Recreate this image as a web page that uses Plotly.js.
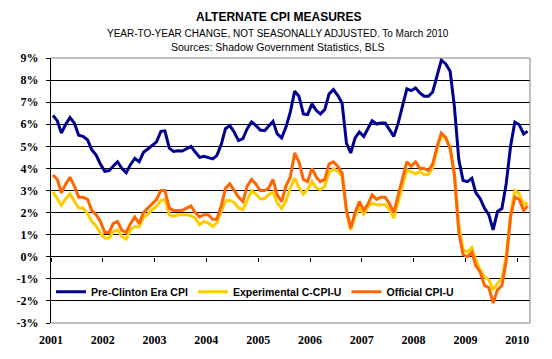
<!DOCTYPE html>
<html>
<head>
<meta charset="utf-8">
<script src="https://cdn.plot.ly/plotly-3.0.1.min.js"></script>
<style>
html,body{margin:0;padding:0;background:#ffffff;}
#chart{width:552px;height:359px;}
</style>
</head>
<body>
<div id="chart"></div>
<script>
// Monthly year-to-year change (%), Jan 2001 .. Mar 2010
const startYear = 2001;

const preClintonCPI = [
  6.4, 6.15, 5.6, 6.0, 6.3, 6.05, 5.5, 5.45, 5.3, 4.85, 4.6, 4.2,
  3.87, 3.9, 4.1, 4.3, 4.0, 3.8, 4.17, 4.45, 4.3, 4.73, 4.88, 5.03,
  5.2, 5.68, 5.7, 4.92, 4.77, 4.8, 4.79, 4.89, 5.0, 4.74, 4.5, 4.55,
  4.5, 4.43, 4.58, 5.08, 5.8, 5.94, 5.65, 5.26, 5.35, 5.8, 6.1, 5.95,
  5.74, 5.71, 5.91, 6.13, 5.56, 5.38, 5.86, 6.55, 7.5, 7.27, 6.47, 6.44,
  6.92, 6.62, 6.47, 6.66, 7.37, 7.57, 7.31, 6.96, 5.15, 4.7, 5.38, 5.65,
  5.45, 5.86, 6.16, 6.01, 6.06, 6.06, 5.76, 5.45, 6.06, 6.89, 7.6, 7.52,
  7.64, 7.42, 7.27, 7.27, 7.46, 8.2, 8.9, 8.73, 8.4, 6.8, 4.4, 3.45,
  3.4, 3.55, 2.9, 2.63, 2.2, 1.9, 1.22, 2.05, 2.18, 3.3, 5.0, 6.1,
  5.98, 5.56, 5.68
];

const experimentalCCPIU = [
  2.93, 2.58, 2.33, 2.63, 2.84, 2.51, 2.21, 2.21, 1.96, 1.6, 1.4, 1.07,
  0.85, 0.85, 1.12, 1.22, 0.92, 0.8, 1.22, 1.37, 1.35, 1.78, 1.93, 2.13,
  2.28, 2.54, 2.61, 1.9, 1.83, 1.9, 1.9, 1.9, 1.86, 1.75, 1.45, 1.6,
  1.53, 1.37, 1.53, 2.05, 2.54, 2.55, 2.46, 2.21, 2.13, 2.54, 2.99, 2.84,
  2.63, 2.63, 2.81, 2.93, 2.43, 2.18, 2.51, 3.11, 3.56, 3.14, 2.84, 3.04,
  3.41, 3.11, 3.04, 3.19, 3.79, 3.99, 3.87, 3.64, 2.05, 1.22, 1.85, 2.2,
  1.93, 2.28, 2.43, 2.36, 2.36, 2.36, 2.13, 1.75, 2.5, 3.2, 3.94, 3.84,
  3.75, 3.87, 3.72, 3.72, 4.05, 4.85, 5.53, 5.35, 4.95, 3.79, 1.45, 0.32,
  0.21, 0.42, -0.14, -0.6, -0.9, -1.05, -1.5, -1.2, -1.0, 0.05, 1.9, 3.0,
  2.85, 2.35, 2.45
];

const officialCPIU = [
  3.7, 3.5, 2.9, 3.3, 3.6, 3.2, 2.7, 2.7, 2.6, 2.1, 1.9, 1.6,
  1.1, 1.1, 1.5, 1.6, 1.2, 1.1, 1.5, 1.8, 1.5, 2.0, 2.2, 2.4,
  2.6, 3.0, 3.0, 2.2, 2.1, 2.1, 2.1, 2.2, 2.3, 2.0, 1.8, 1.9,
  1.9, 1.7, 1.7, 2.3, 3.1, 3.3, 3.0, 2.7, 2.5, 3.2, 3.5, 3.3,
  3.0, 3.0, 3.1, 3.5, 2.8, 2.5, 3.2, 3.6, 4.7, 4.3, 3.5, 3.4,
  4.0, 3.6, 3.4, 3.5, 4.2, 4.3, 4.1, 3.8, 2.1, 1.3, 2.0, 2.5,
  2.1, 2.4, 2.8, 2.6, 2.7, 2.7, 2.4, 2.0, 2.8, 3.5, 4.3, 4.1,
  4.3, 4.0, 4.0, 3.9, 4.2, 5.0, 5.6, 5.4, 4.9, 3.7, 1.1, 0.1,
  0.0, 0.2, -0.4, -0.7, -1.3, -1.4, -2.1, -1.5, -1.3, -0.2, 1.8, 2.7,
  2.6, 2.1, 2.3
];

const seriesNames = ['Pre-Clinton Era CPI', 'Experimental C-CPI-U', 'Official CPI-U'];
const yearLabels = ['2001','2002','2003','2004','2005','2006','2007','2008','2009','2010'];
const yTickVals = [-3,-2,-1,0,1,2,3,4,5,6,7,8,9];
const yTickText = ['-3%','-2%','-1%','0%','1%','2%','3%','4%','5%','6%','7%','8%','9%'];

// month dates (mid-month) for each observation
const months = preClintonCPI.map(function(_, i){
  const y = startYear + Math.floor(i / 12);
  const m = (i % 12) + 1;
  return y + '-' + (m < 10 ? '0' + m : m) + '-15';
});
const yearDates = yearLabels.map(function(y){ return y + '-01-01'; });
const xRange = ['2001-01-01', '2010-04-01'];

const traces = [
  {x: months, y: preClintonCPI, name: seriesNames[0], type: 'scatter', mode: 'lines',
   line: {color: '#000090', width: 3}},
  {x: months, y: experimentalCCPIU, name: seriesNames[1], type: 'scatter', mode: 'lines',
   line: {color: '#FFCC00', width: 3}},
  {x: months, y: officialCPIU, name: seriesNames[2], type: 'scatter', mode: 'lines',
   line: {color: '#FF6600', width: 3}},
  {x: [], y: [], xaxis: 'x2', showlegend: false, hoverinfo: 'skip', type: 'scatter', mode: 'lines'}
];

const boldSerif = {family: '"Liberation Serif", "Times New Roman", serif', size: 12, color: '#000', weight: 'bold'};

const layout = {
  width: 552, height: 359,
  margin: {l: 51, r: 22, t: 58, b: 36, pad: 0},
  paper_bgcolor: '#ffffff', plot_bgcolor: '#ffffff',
  title: {
    text: '<b>ALTERNATE CPI MEASURES</b>',
    font: {family: '"Liberation Sans", Arial, sans-serif', size: 12, color: '#000'},
    x: 0.505, xanchor: 'center', xref: 'container',
    y: 1 - 16.5 / 359, yanchor: 'middle', yref: 'container'
  },
  xaxis: {
    type: 'date', range: xRange, tickvals: yearDates, ticktext: yearLabels,
    ticks: '', showgrid: false, zeroline: false, showline: false,
    tickfont: boldSerif, ticklabelstandoff: 8, fixedrange: true
  },
  xaxis2: {
    type: 'date', overlaying: 'x', anchor: 'free', position: 0.25, side: 'bottom',
    range: xRange, tickvals: yearDates, ticks: 'outside', ticklen: 4, tickcolor: '#000', tickwidth: 1,
    showticklabels: false, showgrid: false, zeroline: false, showline: false, fixedrange: true
  },
  yaxis: {
    range: [-3, 9], tickvals: yTickVals, ticktext: yTickText,
    ticks: 'outside', ticklen: 4, tickcolor: '#000', tickwidth: 1,
    showline: true, linecolor: '#000', linewidth: 1,
    showgrid: true, gridcolor: '#000', gridwidth: 1, zeroline: false,
    tickfont: boldSerif, ticklabelstandoff: 5, fixedrange: true
  },
  showlegend: true,
  legend: {
    orientation: 'h', x: 0.0, xanchor: 'left', y: 0.1177, yanchor: 'middle',
    bgcolor: 'rgba(0,0,0,0)', borderwidth: 0,
    font: {family: '"Liberation Sans", Arial, sans-serif', size: 10.5, color: '#000', weight: 'bold'},
    itemwidth: 30, traceorder: 'normal'
  },
  shapes: [
    {type: 'line', xref: 'paper', yref: 'paper', x0: 0, x1: 1, y0: 1, y1: 1, layer: 'above', line: {color: '#808080', width: 1}},
    {type: 'line', xref: 'paper', yref: 'paper', x0: 1, x1: 1, y0: 0, y1: 1, layer: 'above', line: {color: '#808080', width: 1}},
    {type: 'line', xref: 'paper', yref: 'paper', x0: 0, x1: 1, y0: 0, y1: 0, layer: 'above', line: {color: '#808080', width: 1}}
  ],
  annotations: [
    {text: 'YEAR-TO-YEAR CHANGE, NOT SEASONALLY ADJUSTED. To March 2010', xref: 'paper', yref: 'paper',
     x: 0.4749, y: 1 + (58 - 33.5) / 265, xanchor: 'center', yanchor: 'middle', showarrow: false,
     font: {family: '"Liberation Sans", Arial, sans-serif', size: 10, color: '#000'}},
    {text: 'Sources: Shadow Government Statistics, BLS', xref: 'paper', yref: 'paper',
     x: 0.4749, y: 1 + (58 - 47.5) / 265, xanchor: 'center', yanchor: 'middle', showarrow: false,
     font: {family: '"Liberation Sans", Arial, sans-serif', size: 10.5, color: '#000'}}
  ],
  hovermode: false
};

Plotly.newPlot('chart', traces, layout, {displayModeBar: false, staticPlot: true});
</script>
</body>
</html>
